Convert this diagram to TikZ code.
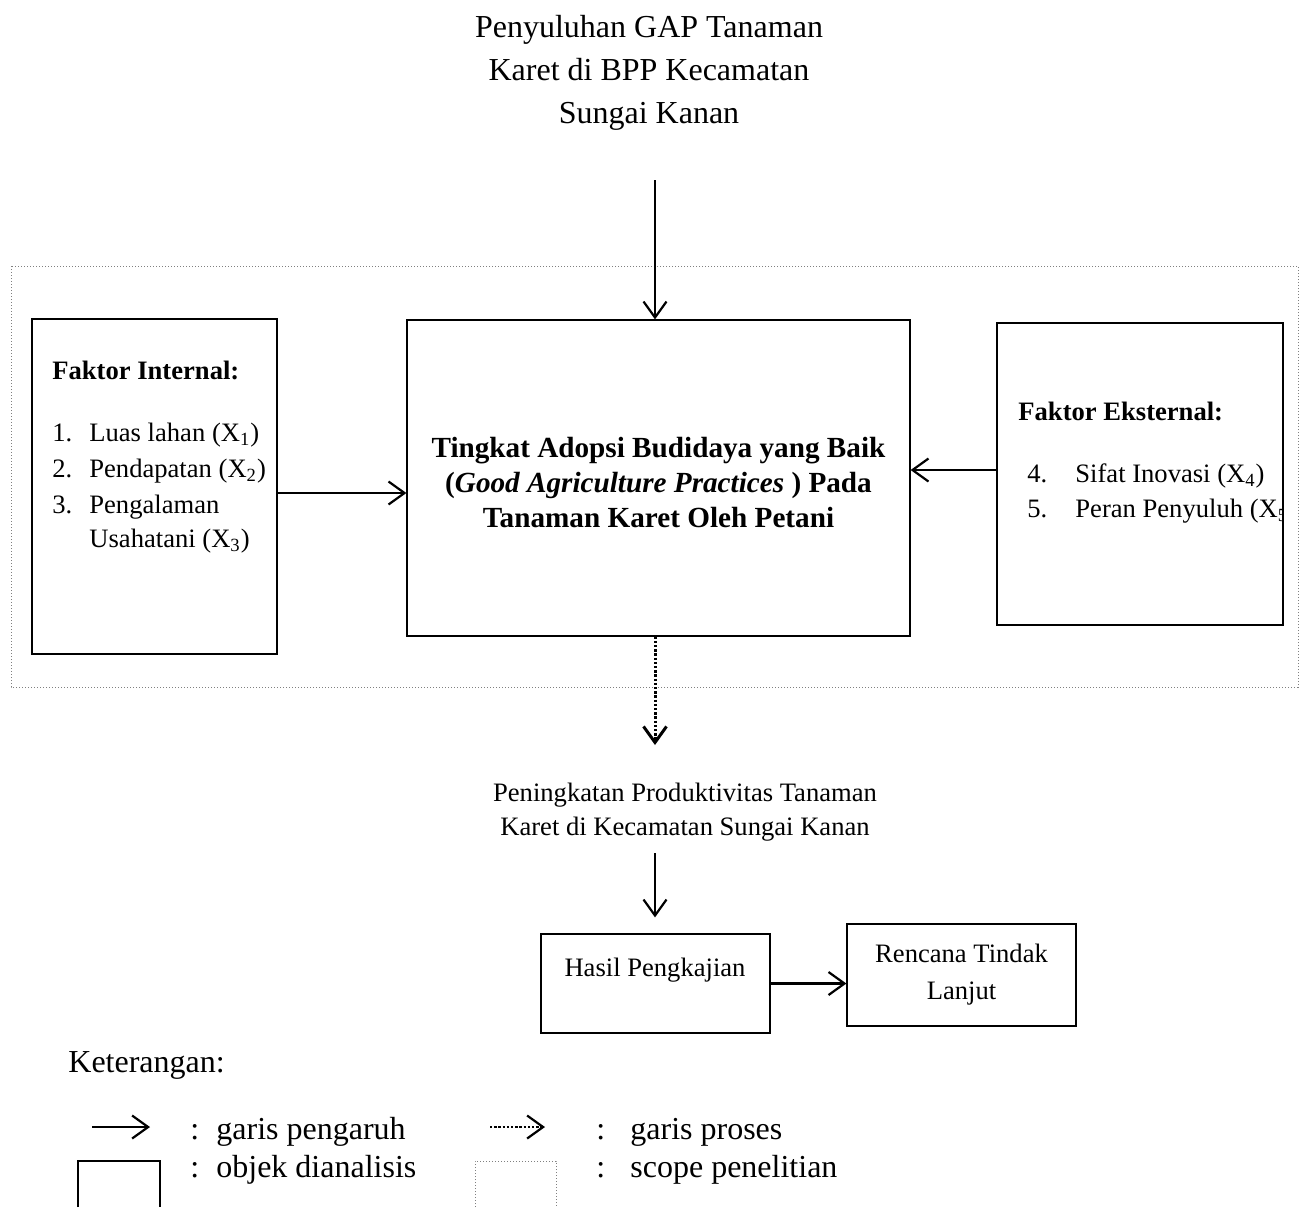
\documentclass[tikz,border=0pt]{standalone}
\usepackage{fontspec}
\setmainfont{Liberation Serif}
\usetikzlibrary{
    arrows.meta,
    calc
}
\newcommand{\judulfont}{\fontsize{16}{21.5}\selectfont}
\newcommand{\kotakfont}{\fontsize{13.3}{17.75}\selectfont}
\newcommand{\adopsifont}{\fontsize{14.6}{17.5}\selectfont}
\newcommand{\bawahfont}{\fontsize{13.3}{17}\selectfont}

\begin{document}
\begin{tikzpicture}[x=0.5pt, y=-0.5pt,
    kotak/.style={draw, line width=0.6pt, inner sep=0pt},
    lingkup/.style={draw=gray, line width=0.5pt, densely dotted},
    pengaruh/.style={-{Straight Barb[length=8pt,width=11.5pt]}, line width=1.1pt},
    proses/.style={-{Straight Barb[length=8pt,width=11.5pt]}, line width=1.5pt, dash pattern=on 1.2pt off 0.9pt},
    teks/.style={inner sep=0pt, anchor=base west}]
    \useasboundingbox (0,0) rectangle (1304,1207);
    \node (judul) [align=center, inner sep=0pt, anchor=base, font=\judulfont] at (649,123) {Penyuluhan GAP Tanaman\\Karet di BPP Kecamatan\\Sungai Kanan};
    % scope penelitian
    \draw[lingkup] (11,266) rectangle (1298,687);
    \node (internal) [kotak, minimum width=122.5pt, minimum height=167.5pt] at (154.5,486.5) {};
    \node (adopsi) [kotak, minimum width=251.5pt, minimum height=158pt] at (658.5,478) {};
    \node (eksternal) [kotak, minimum width=143pt, minimum height=151pt] at (1140,474) {};
    \node (judulint) [teks, font=\kotakfont\bfseries] at (52,379) {Faktor Internal:};
    \node (x1) [teks, font=\kotakfont] at (52,441) {\makebox[18.5pt][l]{1.}Luas lahan (X\textsubscript{1})};
    \node (x2) [teks, font=\kotakfont] at (52,477) {\makebox[18.5pt][l]{2.}Pendapatan (X\textsubscript{2})};
    \node (x3) [teks, font=\kotakfont] at (52,513) {\makebox[18.5pt][l]{3.}Pengalaman};
    \node (x3b) [teks, font=\kotakfont] at (89,547) {Usahatani (X\textsubscript{3})};
    \node (teksadopsi) [align=center, inner sep=0pt, anchor=base, font=\adopsifont\bfseries] at (658.5,527) {Tingkat Adopsi Budidaya yang Baik\\(\textit{Good Agriculture Practices} ) Pada\\Tanaman Karet Oleh Petani};
    \begin{scope}
        \clip (eksternal.south west) rectangle (eksternal.north east);
        \node (juduleks) [teks, font=\kotakfont\bfseries] at (1018,420) {Faktor Eksternal:};
        \node (x4) [teks, font=\kotakfont] at (1027,482) {\makebox[24pt][l]{4.}Sifat Inovasi (X\textsubscript{4})};
        \node (x5) [teks, font=\kotakfont] at (1027,517) {\makebox[24pt][l]{5.}Peran Penyuluh (X\textsubscript{5})};
    \end{scope}
    \coordinate (atas) at (655,180);
    \draw[pengaruh] (atas) -- (atas |- adopsi.north);
    \draw[pengaruh] ([yshift=-3.25pt]internal.east) -- ([yshift=-3.25pt]internal.east -| adopsi.west);
    \draw[pengaruh] ([yshift=2pt]eksternal.west) -- ([yshift=2pt]eksternal.west -| adopsi.east);
    \coordinate (ujungproses) at (655,745);
    \draw[proses] (adopsi.south -| atas) -- (ujungproses);
    \node (produktivitas) [align=center, inner sep=0pt, anchor=base, font=\bawahfont] at (685,835) {Peningkatan Produktivitas Tanaman\\Karet di Kecamatan Sungai Kanan};
    \node (hasil) [kotak, minimum width=114.5pt, minimum height=49.5pt] at (655.5,983.5) {};
    \node (tekshasil) [inner sep=0pt, anchor=base, font=\bawahfont] at (655,976) {Hasil Pengkajian};
    \node (rencana) [kotak, minimum width=114.5pt, minimum height=51pt, align=center, font=\fontsize{13.3}{18.5}\selectfont] at (961.5,975) {Rencana Tindak\\Lanjut};
    \coordinate (bawah) at (655,853);
    \draw[pengaruh] (bawah) -- ([yshift=8pt]bawah |- hasil.north);
    \draw[pengaruh] (hasil.east) -- (hasil.east -| rencana.west);
    % keterangan
    \node (ket) [teks, font=\judulfont] at (68,1072) {Keterangan:};
    \coordinate (lp1) at (92,1127);
    \coordinate (lp2) at (150,1127);
    \draw[pengaruh] (lp1) -- (lp2);
    \coordinate (lq1) at (490,1127);
    \coordinate (lq2) at (545,1127);
    \draw[proses, line width=1.1pt] (lq1) -- (lq2);
    \node (ketpengaruh) [teks, font=\judulfont] at (190,1139) {\makebox[13pt][l]{:}garis pengaruh};
    \node (ketproses) [teks, font=\judulfont] at (596,1139) {\makebox[17pt][l]{:}garis proses};
    \draw[line width=0.6pt] (78,1207) |- (160,1161) -- (160,1207);
    \draw[lingkup] (475,1207) |- (556,1161) -- (556,1207);
    \node (ketobjek) [teks, font=\judulfont] at (190,1177) {\makebox[13pt][l]{:}objek dianalisis};
    \node (ketscope) [teks, font=\judulfont] at (596,1177) {\makebox[17pt][l]{:}scope penelitian};
\end{tikzpicture}
\end{document}
